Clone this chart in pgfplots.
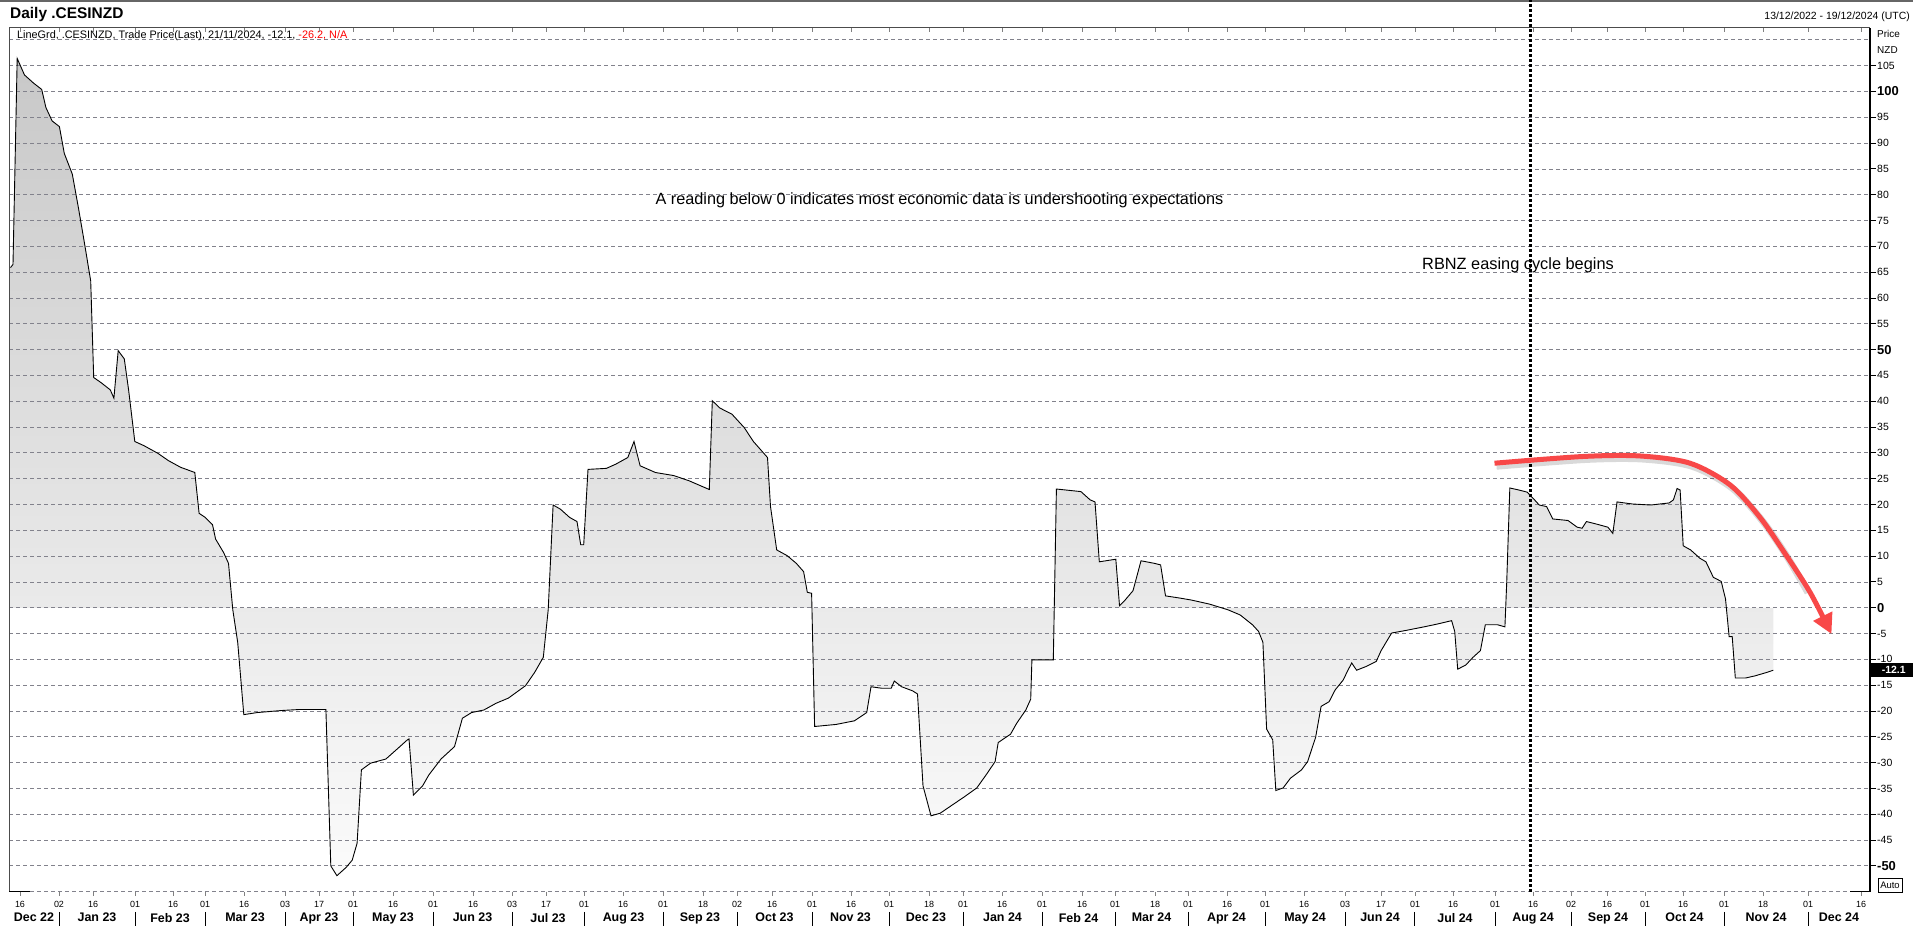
\documentclass[border=0pt]{standalone}
\usepackage{fontspec}
\setmainfont{Liberation Sans}
\usepackage{pgfplots}
\pgfplotsset{compat=1.18}
\usetikzlibrary{arrows.meta}
\definecolor{gridgray}{RGB}{130,130,140}
\definecolor{arrowred}{RGB}{248,72,72}
\definecolor{fillA}{RGB}{200,200,200}
\definecolor{fillB}{RGB}{234,234,234}
\definecolor{fillC}{RGB}{251,251,251}
\newcommand{\B}[1]{{\fontsize{13}{13}\selectfont\bfseries #1}}
\tikzset{mlbl/.style={font=\fontsize{12.5}{13}\selectfont\bfseries, inner sep=0pt, anchor=north}}
\begin{document}
\begin{tikzpicture}
\draw[gray!80!black, line width=2bp] (0,925bp) -- (1913bp,925bp);
\node[anchor=west, inner sep=0pt, font=\fontsize{15.5}{16}\selectfont\bfseries] at (10bp,911bp) {Daily .CESINZD};
\node[anchor=east, inner sep=0pt, font=\fontsize{10.5}{11}\selectfont] at (1910bp,909bp) {13/12/2022 - 19/12/2024 (UTC)};
\node[anchor=west, inner sep=0pt, font=\fontsize{10.9}{11}\selectfont] at (17bp,890bp) {LineGrd, .CESINZD, Trade Price(Last), 21/11/2024, -12.1, \textcolor{red}{-26.2, N/A}};
\node[anchor=west, inner sep=0pt, font=\fontsize{10}{11}\selectfont] at (1877bp,892bp) {Price};
\node[anchor=west, inner sep=0pt, font=\fontsize{10}{11}\selectfont] at (1877bp,876bp) {NZD};
\node[draw=black, line width=0.8bp, inner sep=1bp, minimum width=24bp, minimum height=14bp, font=\fontsize{9.5}{10}\selectfont] at (1890bp,41bp) {Auto};
\begin{axis}[
  at={(9bp,34.3bp)}, anchor=south west,
  scale only axis, width=1861bp, height=863.7bp,
  xmin=9, xmax=1870, ymin=-55, ymax=112.3,
  clip=false,
  set layers=standard,
  axis line style={draw=none},
  ytick={-50,-45,...,105},
  yticklabels={\B{-50},-45,-40,-35,-30,-25,-20,-15,-10,-5,\B{0},5,10,15,20,25,30,35,40,45,\B{50},55,60,65,70,75,80,85,90,95,\B{100},105},
  ytick pos=right, yticklabel pos=right,
  ytick style={black, line width=0.9bp},
  y tick label style={anchor=west, inner sep=1bp, font=\fontsize{10.5}{11}\selectfont},
  tick align=outside,
  major tick length=6bp,
  ymajorgrids,
  grid style={gridgray, dash pattern=on 4bp off 3bp, line width=0.8bp},
  extra y ticks={-55,110},
  extra y tick labels={},
  extra y tick style={major tick length=0pt, grid=major},
  xtick={20,59,93,135,173,205,244,285,319,353,393,433,473,512,546,584,623,663,703,737,772,812,851,889,929,963,1002,1042,1082,1115,1155,1188,1227,1265,1304,1345,1381,1415,1453,1495,1533,1571,1607,1645,1683,1724,1763,1808,1861},
  xticklabels={16,02,16,01,16,01,16,03,17,01,16,01,16,03,17,01,16,01,18,02,16,01,16,01,18,01,16,01,16,01,18,01,16,01,16,03,17,01,16,01,16,02,16,01,16,01,18,01,16},
  xtick style={draw=none},
  x tick label style={anchor=north, inner sep=0pt, yshift=-3bp, font=\fontsize{9}{9}\selectfont},
]
\addplot[on layer=axis background, draw=none, top color=fillA, middle color=fillB, bottom color=fillC] coordinates {
(10.5,65.9)(13,66.5)(17.2,106.4)(24.5,103.2)(33.7,101.6)(41.7,100.4)(45.9,96.9)(52.1,94.3)(59.4,93.2)(64.3,88.0)(72.3,84.0)(78.4,77.5)(84.5,70.6)(90.7,63.3)(93.7,44.6)(101.1,43.6)(110.3,42.2)(113.9,40.6)(118.2,49.8)(124.3,48.2)(128.6,42.2)(134.8,32.2)(143.9,31.4)(158,29.9)(168.4,28.5)(180.7,27.2)(194.8,26.2)(199.1,18.3)(205.2,17.5)(212.5,16.1)(215.6,13.3)(223.6,10.7)(228.5,8.6)(232.8,-0.4)(237.7,-6.7)(243.8,-20.7)(257.3,-20.3)(281.8,-19.9)(300.1,-19.7)(325.9,-19.7)(330.8,-50)(336.9,-51.9)(346.1,-50.3)(352.2,-48.9)(357.1,-45.6)(361.4,-31.4)(370.6,-30.1)(385.9,-29.3)(398.1,-27.2)(407.3,-25.6)(409,-25.4)(413.4,-36.3)(422.6,-34.5)(428.8,-32.4)(441,-29.3)(454.5,-26.9)(462.4,-21.4)(471.6,-20.3)(483.9,-19.8)(496.1,-18.5)(508.4,-17.5)(525.5,-15.1)(534.7,-12.5)(543.3,-9.6)(548.2,-0.4)(553.1,19.9)(560.4,19.1)(569.6,17.5)(577,16.7)(580.7,12.2)(583.7,12.2)(588,26.8)(606.4,27)(615.6,27.8)(627.8,29.1)(634,32.2)(640.1,27.5)(655.4,26.2)(673.8,25.6)(689,24.6)(709.3,22.9)(712.3,40.1)(719.7,38.7)(731.9,37.5)(744.2,34.9)(753.4,32.2)(767.5,29.1)(770.5,19.6)(776.7,11.2)(787.1,10.1)(796.3,8.6)(803.6,7)(807.3,3)(811.6,2.8)(814.6,-23)(836.1,-22.6)(854.4,-21.9)(866.7,-20.3)(871,-15.3)(882,-15.6)(891.2,-15.6)(894.3,-14.2)(901.6,-15.3)(912.6,-16.1)(917.5,-16.7)(923,-34.5)(931,-40.3)(940.2,-39.8)(952.3,-38.2)(964.5,-36.6)(976.8,-34.9)(986,-32.4)(995.1,-29.8)(998.2,-26.1)(1010.5,-24.5)(1016.6,-22.4)(1025.8,-19.8)(1030.7,-17.7)(1031.9,-10.1)(1053.3,-10.1)(1056.4,23)(1080.9,22.5)(1090.1,20.9)(1095,20.5)(1099.3,8.9)(1115.8,9.4)(1119.5,0.4)(1123.8,1.2)(1133,3.3)(1141,9.1)(1154.4,8.6)(1160.6,8.3)(1165.5,2.3)(1179,1.9)(1191.2,1.5)(1209.6,0.7)(1228,-0.4)(1240.2,-1.4)(1252.5,-3.3)(1258.6,-4.6)(1262.9,-6.7)(1266.6,-23.5)(1272.7,-25.6)(1275.8,-35.4)(1283.1,-34.9)(1290.5,-33)(1301.5,-31.4)(1307.6,-29.8)(1315.6,-25.1)(1321.1,-19.1)(1329.1,-18.2)(1335.2,-15.9)(1343.2,-14)(1347.4,-12.3)(1351.7,-10.7)(1356.6,-12.1)(1365.8,-11.4)(1376.2,-10.4)(1381.1,-8.3)(1391.6,-4.9)(1405.7,-4.4)(1424,-3.7)(1436.3,-3.2)(1451.6,-2.5)(1454.7,-4.6)(1457.7,-11.9)(1465.7,-11.1)(1473,-9.6)(1480.4,-8.3)(1485.3,-3.3)(1497.6,-3.3)(1504.9,-3.7)(1506.7,4.9)(1509.8,23.2)(1519,22.8)(1527,22.4)(1533.1,21.2)(1539.2,19.9)(1546.6,19.6)(1552.7,17.2)(1568,16.9)(1577.2,15.6)(1582.1,15.4)(1586.4,16.7)(1598.6,16.1)(1607.9,15.6)(1612.8,14.4)(1617,20.5)(1632.3,20.1)(1650.7,19.9)(1669.1,20.3)(1673.4,20.9)(1677.1,23.1)(1680.1,22.8)(1683.2,12)(1690.6,11.2)(1699.8,9.6)(1705.9,8.9)(1713.3,5.9)(1721.2,5.1)(1725.5,1.7)(1729.1,-5.6)(1732.2,-5.6)(1735.3,-13.6)(1745.7,-13.6)(1754.9,-13.2)(1767.2,-12.5)(1773.3,-12.1)
} \closedcycle;
\addplot[black, line width=0.9bp] coordinates {
(10.5,65.9)(13,66.5)(17.2,106.4)(24.5,103.2)(33.7,101.6)(41.7,100.4)(45.9,96.9)(52.1,94.3)(59.4,93.2)(64.3,88.0)(72.3,84.0)(78.4,77.5)(84.5,70.6)(90.7,63.3)(93.7,44.6)(101.1,43.6)(110.3,42.2)(113.9,40.6)(118.2,49.8)(124.3,48.2)(128.6,42.2)(134.8,32.2)(143.9,31.4)(158,29.9)(168.4,28.5)(180.7,27.2)(194.8,26.2)(199.1,18.3)(205.2,17.5)(212.5,16.1)(215.6,13.3)(223.6,10.7)(228.5,8.6)(232.8,-0.4)(237.7,-6.7)(243.8,-20.7)(257.3,-20.3)(281.8,-19.9)(300.1,-19.7)(325.9,-19.7)(330.8,-50)(336.9,-51.9)(346.1,-50.3)(352.2,-48.9)(357.1,-45.6)(361.4,-31.4)(370.6,-30.1)(385.9,-29.3)(398.1,-27.2)(407.3,-25.6)(409,-25.4)(413.4,-36.3)(422.6,-34.5)(428.8,-32.4)(441,-29.3)(454.5,-26.9)(462.4,-21.4)(471.6,-20.3)(483.9,-19.8)(496.1,-18.5)(508.4,-17.5)(525.5,-15.1)(534.7,-12.5)(543.3,-9.6)(548.2,-0.4)(553.1,19.9)(560.4,19.1)(569.6,17.5)(577,16.7)(580.7,12.2)(583.7,12.2)(588,26.8)(606.4,27)(615.6,27.8)(627.8,29.1)(634,32.2)(640.1,27.5)(655.4,26.2)(673.8,25.6)(689,24.6)(709.3,22.9)(712.3,40.1)(719.7,38.7)(731.9,37.5)(744.2,34.9)(753.4,32.2)(767.5,29.1)(770.5,19.6)(776.7,11.2)(787.1,10.1)(796.3,8.6)(803.6,7)(807.3,3)(811.6,2.8)(814.6,-23)(836.1,-22.6)(854.4,-21.9)(866.7,-20.3)(871,-15.3)(882,-15.6)(891.2,-15.6)(894.3,-14.2)(901.6,-15.3)(912.6,-16.1)(917.5,-16.7)(923,-34.5)(931,-40.3)(940.2,-39.8)(952.3,-38.2)(964.5,-36.6)(976.8,-34.9)(986,-32.4)(995.1,-29.8)(998.2,-26.1)(1010.5,-24.5)(1016.6,-22.4)(1025.8,-19.8)(1030.7,-17.7)(1031.9,-10.1)(1053.3,-10.1)(1056.4,23)(1080.9,22.5)(1090.1,20.9)(1095,20.5)(1099.3,8.9)(1115.8,9.4)(1119.5,0.4)(1123.8,1.2)(1133,3.3)(1141,9.1)(1154.4,8.6)(1160.6,8.3)(1165.5,2.3)(1179,1.9)(1191.2,1.5)(1209.6,0.7)(1228,-0.4)(1240.2,-1.4)(1252.5,-3.3)(1258.6,-4.6)(1262.9,-6.7)(1266.6,-23.5)(1272.7,-25.6)(1275.8,-35.4)(1283.1,-34.9)(1290.5,-33)(1301.5,-31.4)(1307.6,-29.8)(1315.6,-25.1)(1321.1,-19.1)(1329.1,-18.2)(1335.2,-15.9)(1343.2,-14)(1347.4,-12.3)(1351.7,-10.7)(1356.6,-12.1)(1365.8,-11.4)(1376.2,-10.4)(1381.1,-8.3)(1391.6,-4.9)(1405.7,-4.4)(1424,-3.7)(1436.3,-3.2)(1451.6,-2.5)(1454.7,-4.6)(1457.7,-11.9)(1465.7,-11.1)(1473,-9.6)(1480.4,-8.3)(1485.3,-3.3)(1497.6,-3.3)(1504.9,-3.7)(1506.7,4.9)(1509.8,23.2)(1519,22.8)(1527,22.4)(1533.1,21.2)(1539.2,19.9)(1546.6,19.6)(1552.7,17.2)(1568,16.9)(1577.2,15.6)(1582.1,15.4)(1586.4,16.7)(1598.6,16.1)(1607.9,15.6)(1612.8,14.4)(1617,20.5)(1632.3,20.1)(1650.7,19.9)(1669.1,20.3)(1673.4,20.9)(1677.1,23.1)(1680.1,22.8)(1683.2,12)(1690.6,11.2)(1699.8,9.6)(1705.9,8.9)(1713.3,5.9)(1721.2,5.1)(1725.5,1.7)(1729.1,-5.6)(1732.2,-5.6)(1735.3,-13.6)(1745.7,-13.6)(1754.9,-13.2)(1767.2,-12.5)(1773.3,-12.1)
};
% frame
\draw[black!70, line width=1bp] (axis cs:9,-55) -- (axis cs:9,112.3) -- (axis cs:1870,112.3);
\draw[black, line width=1.2bp] (axis cs:1870,-55) -- (axis cs:1870,112.3);
\draw[black, line width=1.2bp] (axis cs:9,-55) -- (axis cs:30,-55);
\draw[black, line width=1.2bp] (axis cs:1850,-55) -- (axis cs:1870,-55);
% small x tick marks
\pgfplotsinvokeforeach{20,59,93,135,173,205,244,285,319,353,393,433,473,512,546,584,623,663,703,737,772,812,851,889,929,963,1002,1042,1082,1115,1155,1188,1227,1265,1304,1345,1381,1415,1453,1495,1533,1571,1607,1645,1683,1724,1763,1808,1861}{
  \draw[gray, line width=0.8bp] (axis cs:#1,-55) -- (axis cs:#1,-55.8);
  \draw[gray, line width=0.8bp] (axis cs:#1,112.3) -- (axis cs:#1,111.6);
}
% month separators
\pgfplotsinvokeforeach{59,135,205,285,353,433,512,584,663,737,812,889,963,1042,1115,1188,1265,1345,1414,1495,1571,1645,1724,1808}{
  \draw[black, line width=1bp] (axis cs:#1,-58.9) -- (axis cs:#1,-61.7);
}
% month labels
\node[mlbl] at (axis cs:34,-59.1) {Dec 22};
\node[mlbl] at (axis cs:97,-59.1) {Jan 23};
\node[mlbl] at (axis cs:170,-59.1) {Feb 23};
\node[mlbl] at (axis cs:245,-59.1) {Mar 23};
\node[mlbl] at (axis cs:319,-59.1) {Apr 23};
\node[mlbl] at (axis cs:393,-59.1) {May 23};
\node[mlbl] at (axis cs:472.5,-59.1) {Jun 23};
\node[mlbl] at (axis cs:548,-59.1) {Jul 23};
\node[mlbl] at (axis cs:623.5,-59.1) {Aug 23};
\node[mlbl] at (axis cs:700,-59.1) {Sep 23};
\node[mlbl] at (axis cs:774.5,-59.1) {Oct 23};
\node[mlbl] at (axis cs:850.5,-59.1) {Nov 23};
\node[mlbl] at (axis cs:926,-59.1) {Dec 23};
\node[mlbl] at (axis cs:1002.5,-59.1) {Jan 24};
\node[mlbl] at (axis cs:1078.5,-59.1) {Feb 24};
\node[mlbl] at (axis cs:1151.5,-59.1) {Mar 24};
\node[mlbl] at (axis cs:1226.5,-59.1) {Apr 24};
\node[mlbl] at (axis cs:1305,-59.1) {May 24};
\node[mlbl] at (axis cs:1380,-59.1) {Jun 24};
\node[mlbl] at (axis cs:1455,-59.1) {Jul 24};
\node[mlbl] at (axis cs:1533,-59.1) {Aug 24};
\node[mlbl] at (axis cs:1608,-59.1) {Sep 24};
\node[mlbl] at (axis cs:1684.5,-59.1) {Oct 24};
\node[mlbl] at (axis cs:1766,-59.1) {Nov 24};
\node[mlbl] at (axis cs:1839,-59.1) {Dec 24};
% vertical dotted event line
\draw[black, line width=3bp, dash pattern=on 3bp off 2bp] (axis cs:1530,-55) -- (axis cs:1530,117.7);
% annotations
\node[font=\fontsize{16.3}{17}\selectfont, inner sep=0pt] at (axis cs:939.5,78.9) {A reading below 0 indicates most economic data is undershooting expectations};
\node[font=\fontsize{16.4}{17}\selectfont, inner sep=0pt] at (axis cs:1518,66.3) {RBNZ easing cycle begins};
% red arrow with shadow
\addplot[smooth, black, opacity=0.15, line width=7bp, xshift=2bp, yshift=-3bp] coordinates {(1494.5,28.0)(1583,29.3)(1640,29.4)(1690,28.0)(1730,23.8)(1760,17.5)(1785,10.5)(1806,3.5)};
\addplot[smooth, arrowred, line width=5bp, -{Triangle[length=20bp,width=20bp]}] coordinates {(1494.5,28.0)(1583,29.3)(1640,29.4)(1690,28.0)(1730,23.8)(1760,17.5)(1785,10.5)(1810,3.0)(1831.5,-5.1)};
% last value box
\node[fill=black, text=white, anchor=west, inner sep=0pt, minimum width=43bp, minimum height=14bp, font=\fontsize{10.5}{11}\selectfont\bfseries] at (axis cs:1870.5,-12.1) {\hspace*{3bp}-12.1\hfill};
\end{axis}
\pgfresetboundingbox
\path[use as bounding box] (0,0) rectangle (1913bp,926bp);
\end{tikzpicture}
\end{document}
